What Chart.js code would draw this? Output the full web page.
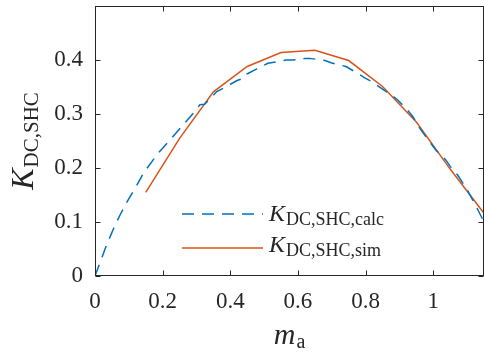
<!DOCTYPE html>
<html>
<head>
<meta charset="utf-8">
<script src="https://cdn.jsdelivr.net/npm/chart.js@4"></script>
<style>
html,body{margin:0;padding:0;background:#fff;}
canvas{display:block;}
</style>
</head>
<body>
<canvas id="c" width="484" height="353"></canvas>
<script>
// ---- data ----
const calcX = [0, 0.034, 0.055, 0.074, 0.098, 0.118, 0.143, 0.172, 0.187, 0.202, 0.226, 0.265, 0.29, 0.31, 0.324, 0.34, 0.359, 0.38, 0.403, 0.42, 0.438, 0.445, 0.452, 0.477, 0.511, 0.54, 0.565, 0.585, 0.605, 0.62, 0.634, 0.659, 0.68, 0.698, 0.71, 0.742, 0.777, 0.8, 0.821, 0.85, 0.87, 0.895, 0.924, 0.94, 0.953, 0.978, 1.008, 1.037, 1.05, 1.072, 1.1, 1.13, 1.15];
const calcY = [0, 0.057, 0.088, 0.113, 0.141, 0.162, 0.190, 0.215, 0.228, 0.238, 0.255, 0.283, 0.301, 0.317, 0.318, 0.328, 0.341, 0.348, 0.356, 0.362, 0.366, 0.373, 0.375, 0.383, 0.394, 0.397, 0.400, 0.400, 0.401, 0.403, 0.403, 0.401, 0.399, 0.395, 0.393, 0.388, 0.375, 0.366, 0.359, 0.346, 0.338, 0.326, 0.307, 0.295, 0.280, 0.258, 0.233, 0.215, 0.203, 0.187, 0.160, 0.125, 0.100];
const simX = [0.15, 0.25, 0.35, 0.45, 0.55, 0.65, 0.75, 0.85, 0.95, 1.05, 1.15];
const simY = [0.155, 0.255, 0.341, 0.388, 0.414, 0.418, 0.399, 0.351, 0.285, 0.198, 0.116];
const xTicks = [0, 0.2, 0.4, 0.6, 0.8, 1];
const yTicks = [0, 0.1, 0.2, 0.3, 0.4];
const xRange = [0, 1.15];
const yRange = [0, 0.5];
const legendMain = ['K', 'K'];
const legendSubs = ['DC,SHC,calc', 'DC,SHC,sim'];
const yTitleMain = 'K', yTitleSub = 'DC,SHC';
const xTitleMain = 'm', xTitleSub = 'a';

const BLUE = '#0072BD', RED = '#D95319', AX = '#262626';
const SERIF = "'Liberation Serif', 'DejaVu Serif', serif";

const toPts = (xs, ys) => xs.map((x, i) => ({x: x, y: ys[i]}));

const decor = {
  id: 'decor',
  afterDraw(chart) {
    const ctx = chart.ctx, a = chart.chartArea;
    const xs = chart.scales.x, ys = chart.scales.y;
    ctx.save();
    ctx.strokeStyle = AX; ctx.lineWidth = 1;
    const L = Math.round(a.left) + 0.5, R = Math.round(a.right) - 0.5;
    const T = Math.round(a.top) + 0.5, B = Math.round(a.bottom) - 0.5;
    ctx.strokeRect(L, T, R - L, B - T);
    const tl = 5;
    ctx.beginPath();
    xTicks.forEach(v => {
      const p = Math.round(xs.getPixelForValue(v)) + 0.5;
      ctx.moveTo(p, B); ctx.lineTo(p, B - tl);
      ctx.moveTo(p, T); ctx.lineTo(p, T + tl);
    });
    yTicks.forEach(v => {
      const p = Math.round(ys.getPixelForValue(v)) + 0.5;
      ctx.moveTo(L, p); ctx.lineTo(L + tl, p);
      ctx.moveTo(R, p); ctx.lineTo(R - tl, p);
    });
    ctx.stroke();

    ctx.fillStyle = AX;
    ctx.textBaseline = 'alphabetic';
    // legend
    const legStyles = [{c: BLUE, dash: [12, 8]}, {c: RED, dash: []}];
    const legY = [214, 248];
    const textBase = [221, 252];
    legStyles.forEach((s, i) => {
      ctx.save();
      ctx.strokeStyle = s.c; ctx.lineWidth = 1.5; ctx.setLineDash(s.dash);
      ctx.beginPath(); ctx.moveTo(182, legY[i]); ctx.lineTo(263, legY[i]); ctx.stroke();
      ctx.restore();
      ctx.font = 'italic 24px ' + SERIF;
      ctx.fillText(legendMain[i], 269, textBase[i]);
      const w = ctx.measureText(legendMain[i]).width;
      ctx.font = '18px ' + SERIF;
      ctx.fillText(legendSubs[i], 269 + w + 1, textBase[i] + 4);
    });

    // x title
    ctx.font = 'italic 30px ' + SERIF;
    const mw = ctx.measureText(xTitleMain).width;
    ctx.font = '20px ' + SERIF;
    const aw = ctx.measureText(xTitleSub).width;
    const cx = (a.left + a.right) / 2;
    const x0 = cx - (mw + aw + 1) / 2;
    ctx.font = 'italic 30px ' + SERIF;
    ctx.fillText(xTitleMain, x0, 344);
    ctx.font = '20px ' + SERIF;
    ctx.fillText(xTitleSub, x0 + mw + 1, 348);

    // y title
    ctx.save();
    ctx.translate(33, 0);
    ctx.rotate(-Math.PI / 2);
    ctx.font = 'italic 32px ' + SERIF;
    const kw = ctx.measureText(yTitleMain).width;
    ctx.font = '21px ' + SERIF;
    const sw = ctx.measureText(yTitleSub).width;
    const cy = (a.top + a.bottom) / 2;
    const start = -(cy + (kw + sw + 1) / 2);
    ctx.font = 'italic 32px ' + SERIF;
    ctx.fillText(yTitleMain, start, 0);
    ctx.font = '21px ' + SERIF;
    ctx.fillText(yTitleSub, start + kw + 1, 5);
    ctx.restore();
    ctx.restore();
  }
};

new Chart(document.getElementById('c'), {
  type: 'scatter',
  data: {
    datasets: [
      {data: toPts(calcX, calcY), showLine: true, borderColor: BLUE, borderWidth: 1.5, borderDash: [12, 8], pointRadius: 0, tension: 0, fill: false},
      {data: toPts(simX, simY), showLine: true, borderColor: RED, borderWidth: 1.5, pointRadius: 0, tension: 0, fill: false}
    ]
  },
  options: {
    responsive: false,
    animation: false,
    devicePixelRatio: 1,
    layout: {padding: {top: 6, right: 0, left: 0, bottom: 0}},
    plugins: {legend: {display: false}, tooltip: {enabled: false}},
    scales: {
      x: {
        type: 'linear', min: xRange[0], max: xRange[1],
        grid: {display: false, drawTicks: false},
        border: {display: false},
        afterBuildTicks: s => { s.ticks = xTicks.map(v => ({value: v})); },
        afterFit: s => { s.height = 77; s.paddingLeft = 0; s.paddingRight = 0; s.paddingTop = 0; s.paddingBottom = 0; },
        ticks: {color: AX, padding: 12, font: {family: SERIF, size: 23}, maxRotation: 0,
          callback: v => String(v)}
      },
      y: {
        type: 'linear', min: yRange[0], max: yRange[1],
        grid: {display: false, drawTicks: false},
        border: {display: false},
        afterBuildTicks: s => { s.ticks = yTicks.map(v => ({value: v})); },
        afterFit: s => { s.width = 95; s.paddingLeft = 0; s.paddingRight = 0; s.paddingTop = 0; s.paddingBottom = 0; },
        ticks: {color: AX, padding: 12, font: {family: SERIF, size: 23},
          callback: v => String(v)}
      }
    }
  },
  plugins: [decor]
});
</script>
</body>
</html>
